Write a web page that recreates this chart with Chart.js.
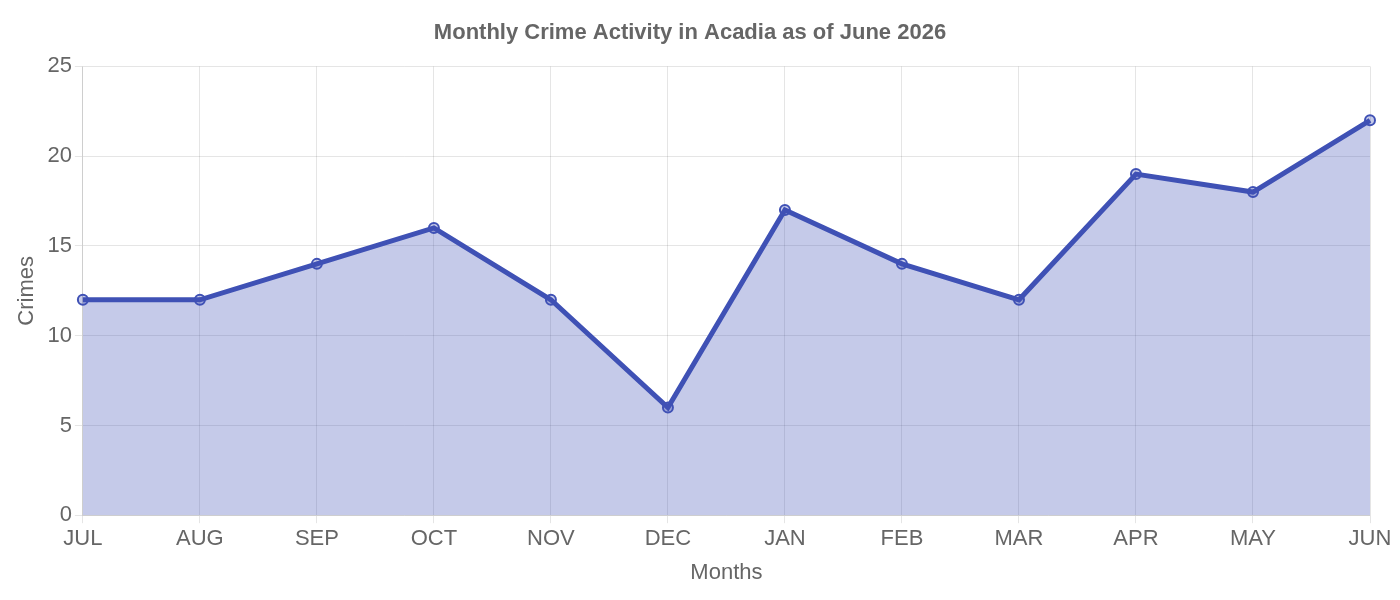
<!DOCTYPE html>
<html><head><script src="https://cdn.jsdelivr.net/npm/chart.js@4"></script>
<style>body{margin:0}#wrap{width:1400px;height:600px}</style></head>
<body><div id="wrap"><canvas id="c"></canvas></div>
<script>
const months = ['JUL','AUG','SEP','OCT','NOV','DEC','JAN','FEB','MAR','APR','MAY','JUN'];
const crimes = [12,12,14,16,12,6,17,14,12,19,18,22];
Chart.defaults.font.family = 'Liberation Sans, Arial, sans-serif';
Chart.defaults.color = '#666';
new Chart(document.getElementById('c'), {
  type: 'line',
  data: { labels: months, datasets: [{
    data: crimes, fill: true, tension: 0,
    borderColor: '#3f51b5', backgroundColor: 'rgba(63,81,181,0.3)',
    borderWidth: 5, pointRadius: 5, pointBorderWidth: 2,
    pointBackgroundColor: 'rgba(63,81,181,0.3)', pointBorderColor: '#3f51b5'
  }]},
  options: {
    responsive: true, maintainAspectRatio: false, animation: false,
    layout: { padding: { left: 10, right: 30, top: 10, bottom: 10 } },
    plugins: {
      legend: { display: false },
      title: { display: true, text: 'Monthly Crime Activity in Acadia as of June 2026', font: { size: 22, weight: 'bold' }, padding: { top: 10, bottom: 20 } }
    },
    scales: {
      x: { offset: false, title: { display: true, text: 'Months', font: { size: 22 } }, ticks: { font: { size: 22 } } },
      y: { min: 0, max: 25, ticks: { stepSize: 5, font: { size: 22 } }, title: { display: true, text: 'Crimes', font: { size: 22 } } }
    }
  }
});
</script></body></html>
